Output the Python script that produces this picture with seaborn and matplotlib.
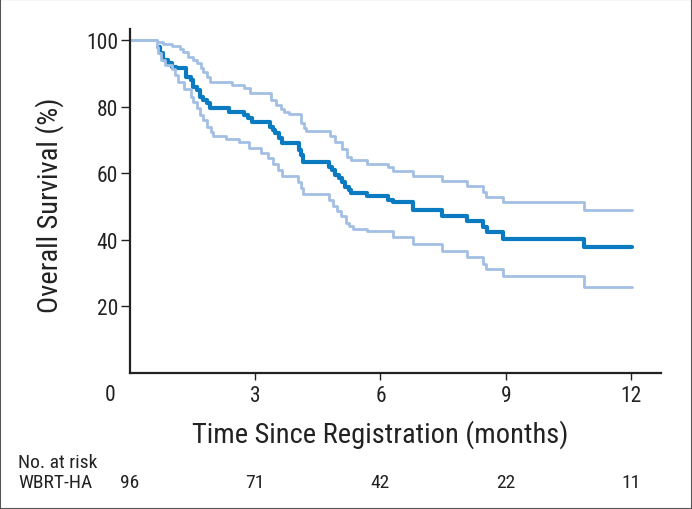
"""
Kaplan-Meier style overall survival curve (WBRT-HA) with 95% CI bands.
"""
import numpy as np
import pandas as pd
import matplotlib
matplotlib.use("Agg")
import matplotlib.pyplot as plt
import matplotlib.transforms as mtransforms
from matplotlib.patches import Rectangle
import seaborn as sns

# ───────────────────────────── data ───────────────────────────── #
main_t = [0.66, 0.72, 0.80, 0.90, 1.00, 1.10, 1.35, 1.45, 1.52, 1.60,
          1.68, 1.76, 1.84, 1.92, 2.38, 2.72, 2.82, 2.92, 3.36, 3.42,
          3.48, 3.56, 3.64, 4.05, 4.10, 4.15, 4.76, 4.84, 4.92, 5.00,
          5.08, 5.16, 5.24, 5.30, 5.68, 6.18, 6.30, 6.78, 7.47, 8.07,
          8.46, 8.55, 8.93, 10.88, 12.02]
main_s = [98, 96, 94, 93, 92, 91.5, 89, 88, 86, 85,
          83, 82, 81, 79.5, 78.5, 77.5, 76.5, 75.4, 74, 73,
          72, 70.5, 69, 67, 65.5, 63.5, 62, 61, 59.5, 58.5,
          57.5, 56, 55, 54, 53.2, 52, 51.4, 49, 47.1, 45.6,
          43.8, 42.3, 40.2, 37.8, 37.8]

upper_t = [0, 0.65, 0.80, 1.00, 1.20, 1.28, 1.38, 1.50, 1.60, 1.70,
           1.76, 1.84, 1.92, 2.45, 2.72, 2.87, 3.38, 3.50, 3.62, 3.70,
           3.80, 4.10, 4.16, 4.22, 4.79, 4.90, 5.08, 5.20, 5.30, 5.68,
           6.18, 6.30, 6.78, 7.47, 8.07, 8.46, 8.52, 8.93, 10.87, 12.02]
upper_s = [100, 99.4, 98.8, 98.2, 97.3, 96.5, 95, 94, 93, 91.5,
           90.5, 89, 87.4, 86.5, 85.5, 84.2, 82, 80.5, 79.3, 78.4,
           77.8, 75, 73.5, 72.7, 71.2, 69.5, 67.3, 65, 64, 62.8,
           62, 60.7, 59.3, 57.7, 56.2, 54.4, 53, 51.4, 49, 49]

lower_t = [0, 0.64, 0.68, 0.75, 0.85, 1.00, 1.08, 1.15, 1.30, 1.45,
           1.52, 1.60, 1.68, 1.75, 1.85, 1.95, 2.00, 2.30, 2.60, 2.85,
           3.15, 3.30, 3.42, 3.55, 3.65, 4.03, 4.10, 4.15, 4.76, 4.86,
           4.96, 5.06, 5.18, 5.25, 5.35, 5.68, 6.30, 6.78, 7.47, 8.07,
           8.46, 8.52, 8.93, 10.87, 12.02]
lower_s = [100, 98, 96, 94, 92.5, 91.3, 89.5, 87.5, 85.3, 83,
           81.5, 79.5, 77.5, 76, 74, 72.5, 71.2, 70.3, 69.4, 67.5,
           66.2, 64.5, 62.8, 61, 59.2, 57.4, 55.5, 53.8, 52, 50,
           48.5, 47, 45, 44.1, 43.2, 42.5, 40.8, 38.7, 36.6, 34.8,
           32.7, 31.2, 29, 25.9, 25.9]

x_ticks = [3, 6, 9, 12]
y_ticks = [20, 40, 60, 80, 100]
risk_times = [0, 3, 6, 9, 12]
risk_counts = [96, 71, 42, 22, 11]

MAIN_C = "#0a7bc0"
CI_C = "#a3bfe4"
TXT_C = "#222222"

# ───────────────────────────── plot ───────────────────────────── #
sns.set_style("white")
plt.rcParams["font.family"] = ["Roboto Condensed", "Liberation Sans Narrow",
                               "Liberation Sans", "DejaVu Sans"]

fig = plt.figure(figsize=(6.92, 5.10), dpi=100)
ax = fig.add_axes([130 / 692, 1 - 374 / 510, 531 / 692, 344 / 510])

df_up = pd.DataFrame({"t": upper_t, "s": upper_s})
df_lo = pd.DataFrame({"t": lower_t, "s": lower_s})
df_km = pd.DataFrame({"t": main_t, "s": main_s})

sns.lineplot(data=df_km, x="t", y="s", ax=ax, color=MAIN_C, lw=3.0,
             drawstyle="steps-post", estimator=None, sort=False)
sns.lineplot(data=df_up, x="t", y="s", ax=ax, color=CI_C, lw=2.0,
             drawstyle="steps-post", estimator=None, sort=False)
sns.lineplot(data=df_lo, x="t", y="s", ax=ax, color=CI_C, lw=2.0,
             drawstyle="steps-post", estimator=None, sort=False)

ax.set_xlim(0, 12.72)
ax.set_ylim(0, 103.3)
ax.set_xticks(x_ticks)
ax.set_yticks(y_ticks)
ax.set_xlabel("")
ax.set_ylabel("")
ax.tick_params(axis="y", direction="out", length=6.5, width=1.0, pad=2,
               labelsize=15.5, colors=TXT_C, left=True)
ax.tick_params(axis="x", direction="out", length=5, width=1.0, pad=4,
               labelsize=15.5, colors=TXT_C, bottom=True)
for side in ["top", "right"]:
    ax.spines[side].set_visible(False)
for side in ["left", "bottom"]:
    ax.spines[side].set_color(TXT_C)
    ax.spines[side].set_linewidth(1.6)

# origin label sits left of the axis corner
ax.text(-0.48, -0.032, "0", transform=ax.get_xaxis_transform(),
        ha="center", va="top", fontsize=15.5, color=TXT_C)

fig.text(380 / 692, 1 - 435 / 510, "Time Since Registration (months)",
         ha="center", va="center", fontsize=20.5, color=TXT_C)
fig.text(50 / 692, 1 - 205 / 510, "Overall Survival (%)", rotation=90,
         ha="center", va="center", fontsize=20.5, color=TXT_C)

# number at risk table
fig.text(18 / 692, 1 - 463 / 510, "No. at risk", ha="left", va="center",
         fontsize=14, color=TXT_C)
fig.text(18 / 692, 1 - 483 / 510, "WBRT-HA", ha="left", va="center",
         fontsize=14, color=TXT_C)
trans = mtransforms.blended_transform_factory(ax.transData, fig.transFigure)
for t, n in zip(risk_times, risk_counts):
    fig.text(t, 1 - 483 / 510, str(n), transform=trans, ha="center",
             va="center", fontsize=14, color=TXT_C)

fig.patches.append(Rectangle((0, 0), 1, 1, transform=fig.transFigure,
                             fill=False, edgecolor="#555555", lw=1.5))

fig.savefig("out.png", dpi=100)
